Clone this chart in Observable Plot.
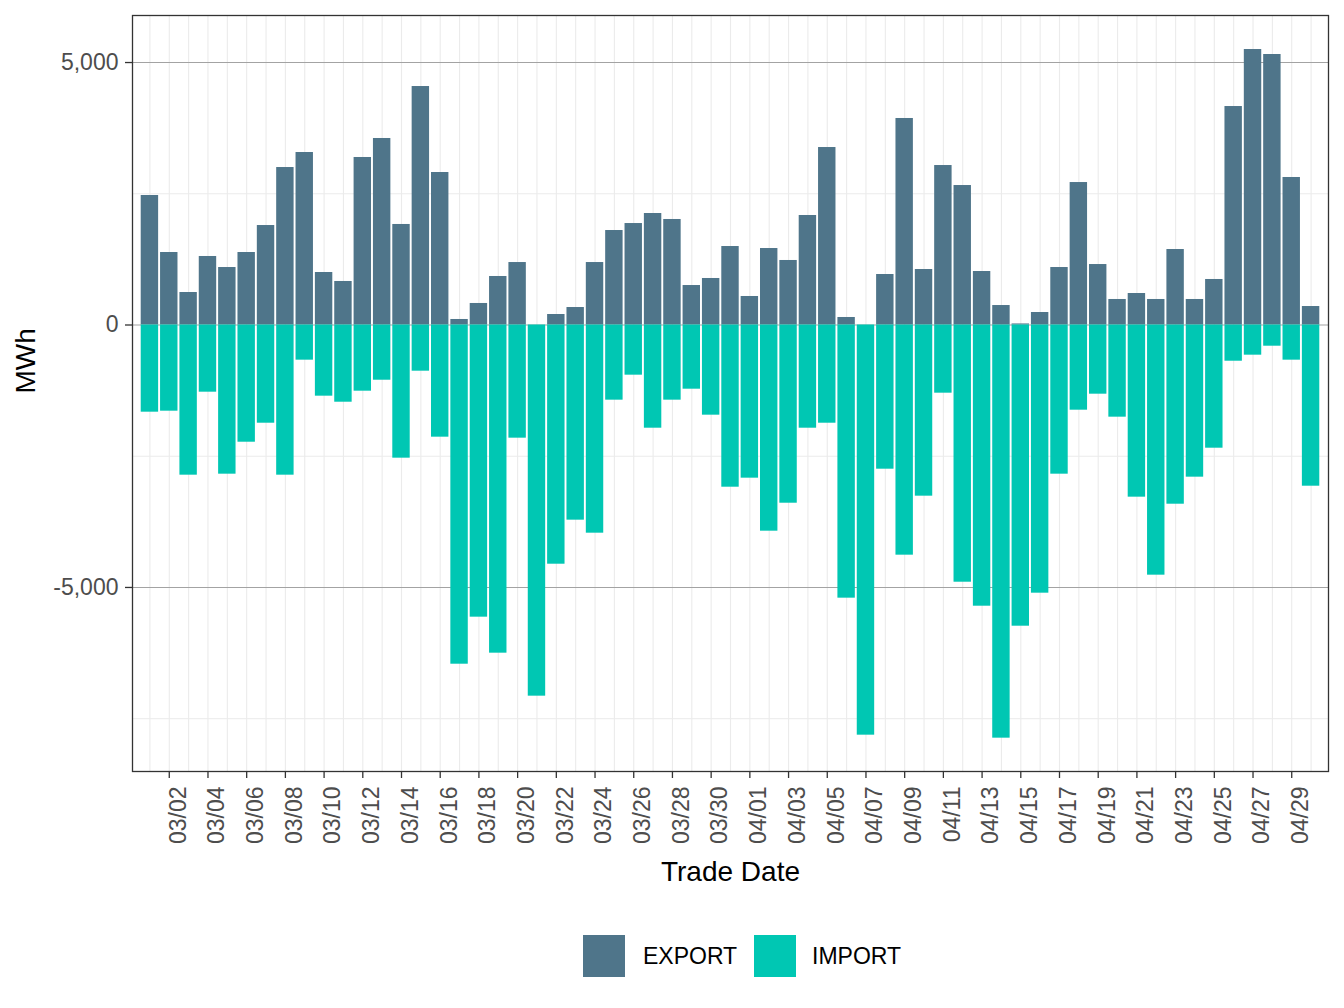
<!DOCTYPE html>
<html>
<head>
<meta charset="utf-8">
<script src="https://cdn.jsdelivr.net/npm/d3@7"></script>
<script src="https://cdn.jsdelivr.net/npm/@observablehq/plot@0.6"></script>
<style>
  html, body { margin: 0; padding: 0; background: #ffffff; }
  body { width: 1344px; height: 1008px; overflow: hidden; font-family: "Liberation Sans", Arial, Helvetica, sans-serif; }
  #legend { position: relative; height: 100px; }
  #legend .key { position: absolute; top: 30px; width: 42px; height: 42px; }
  #legend .lab { position: absolute; top: 30px; height: 42px; line-height: 42px; font-size: 23px; color: #000; }
</style>
</head>
<body>
<div id="chart"></div>
<div id="legend"></div>
<script>
// Trade dates, 1 March – 30 April
const tradeDates = [
  "03/01","03/02","03/03","03/04","03/05","03/06","03/07","03/08","03/09","03/10",
  "03/11","03/12","03/13","03/14","03/15","03/16","03/17","03/18","03/19","03/20",
  "03/21","03/22","03/23","03/24","03/25","03/26","03/27","03/28","03/29","03/30",
  "03/31",
  "04/01","04/02","04/03","04/04","04/05","04/06","04/07","04/08","04/09","04/10",
  "04/11","04/12","04/13","04/14","04/15","04/16","04/17","04/18","04/19","04/20",
  "04/21","04/22","04/23","04/24","04/25","04/26","04/27","04/28","04/29","04/30"
];

// Daily exported energy (MWh)
const exportMWh = [
  2467, 1381, 619, 1305, 1095, 1381, 1895, 3000, 3286, 1000,
  829, 3191, 3553, 1915, 4543, 2905, 105, 410, 924, 1190,
  0, 200, 333, 1190, 1800, 1933, 2124, 2010, 752, 886,
  1495,
  543, 1457, 1229, 2086, 3381, 143, 0, 962, 3934, 1057,
  3038, 2657, 1019, 371, 20, 238, 1095, 2714, 1152, 486,
  600, 486, 1438, 486, 867, 4162, 5248, 5153, 2810, 352
];

// Daily imported energy (MWh, negative)
const importMWh = [
  -1661, -1642, -2861, -1280, -2842, -2233, -1871, -2861, -670, -1356,
  -1471, -1261, -1052, -2537, -880, -2137, -6462, -5566, -6252, -2156,
  -7071, -4557, -3718, -3966, -1432, -956, -1966, -1432, -1223, -1718,
  -3090,
  -2918, -3928, -3395, -1966, -1871, -5204, -7814, -2747, -4385, -3261,
  -1299, -4900, -5357, -7871, -5738, -5109, -2842, -1623, -1318, -1756,
  -3280, -4766, -3414, -2899, -2347, -690, -575, -404, -670, -3071
];

const flowTypes = ["EXPORT", "IMPORT"];
const flowColors = ["#4f758a", "#00c7b3"];

// Axis ticks and grid
const tickDates = tradeDates.filter((d, i) => i % 2 === 1);
const yMajor = [5000, 0, -5000];
const yMinor = [2500, -2500, -7500];

const rows = tradeDates.flatMap((date, i) => [
  {date, type: "EXPORT", mwh: exportMWh[i]},
  {date, type: "IMPORT", mwh: importMWh[i]}
]);

const fmt = (v) => v.toLocaleString("en-US");
const font = "'Liberation Sans', Arial, Helvetica, sans-serif";

const W = 1344, H = 905;
const chart = Plot.plot({
  width: W,
  height: H,
  marginLeft: 132,
  marginRight: 16,
  marginTop: 15,
  marginBottom: H - 771,
  style: {fontFamily: font, background: "#ffffff", overflow: "visible"},
  x: {type: "band", domain: tradeDates, paddingInner: 0.1, paddingOuter: 0.45, round: false, axis: null},
  y: {domain: [-8506, 5896], axis: null},
  color: {domain: flowTypes, range: flowColors},
  marks: [
    Plot.ruleY(yMinor, {stroke: "#ebebeb", strokeWidth: 1}),
    Plot.gridX(tradeDates, {stroke: "#ebebeb", strokeOpacity: 1, strokeWidth: 1.1}),
    Plot.ruleY(yMajor, {stroke: "#a3a3a3", strokeWidth: 1.1}),
    Plot.barY(rows, {x: "date", y: "mwh", fill: "type"}),
    Plot.frame({stroke: "#333333", strokeWidth: 1.3}),
    Plot.axisY(yMajor, {
      tickSize: 7, tickPadding: 7, tickFormat: fmt, fontSize: 23,
      stroke: "#333333", strokeWidth: 1.3, fill: "#4d4d4d", label: null
    }),
    Plot.axisX(tickDates, {
      tickSize: 7, tickPadding: 8, tickRotate: -90, fontSize: 23,
      textAnchor: "end", lineAnchor: "top",
      stroke: "#333333", strokeWidth: 1.3, fill: "#4d4d4d", label: null
    }),
    Plot.text(["Trade Date"], {
      frameAnchor: "bottom", dy: 101, fontSize: 28, fill: "#000000", lineAnchor: "middle"
    }),
    Plot.text(["MWh"], {
      frameAnchor: "left", dx: -106, rotate: -90, fontSize: 28, fill: "#000000", lineAnchor: "middle"
    })
  ]
});
document.getElementById("chart").appendChild(chart);

// Legend below the plot
const legend = document.getElementById("legend");
const keyLeft = [583, 754];
const labLeft = [643, 812];
flowTypes.forEach((t, i) => {
  const k = document.createElement("div");
  k.className = "key";
  k.style.left = keyLeft[i] + "px";
  k.style.background = flowColors[i];
  legend.appendChild(k);
  const l = document.createElement("div");
  l.className = "lab";
  l.style.left = labLeft[i] + "px";
  l.textContent = t;
  legend.appendChild(l);
});
</script>
</body>
</html>
